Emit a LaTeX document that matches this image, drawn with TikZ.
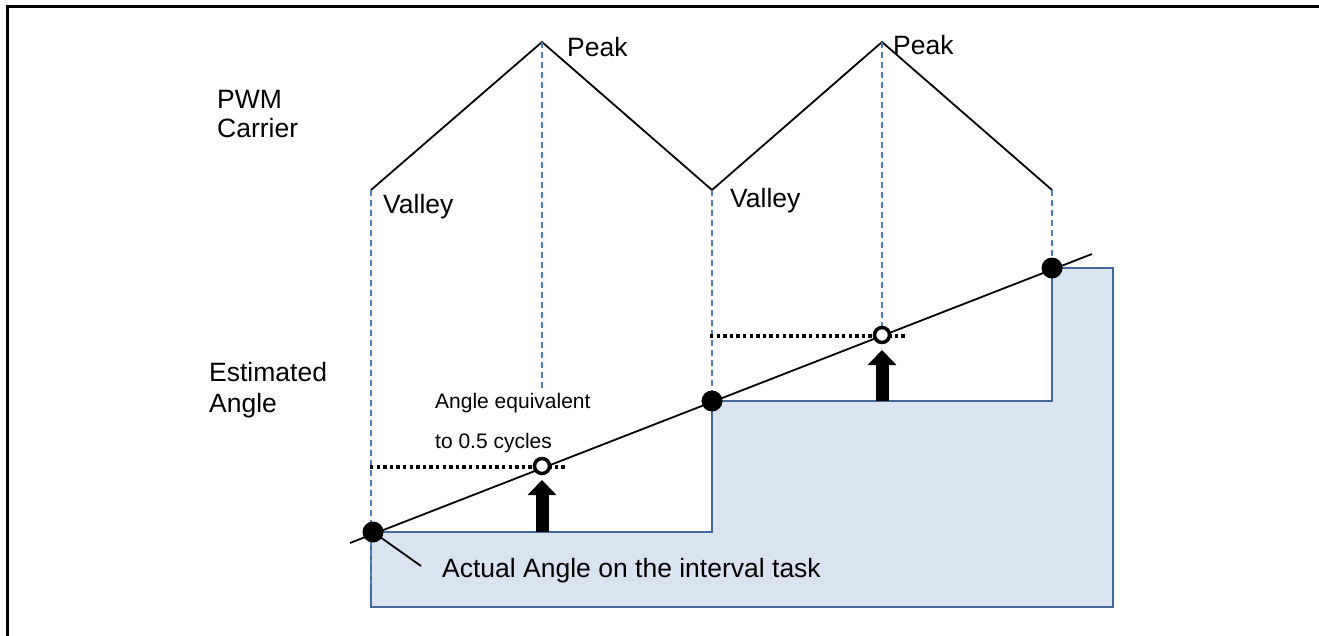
\documentclass[tikz,border=0pt]{standalone}
\usepackage{fontspec}
\setmainfont{Liberation Sans}
\usetikzlibrary{arrows.meta}
\usetikzlibrary{calc}
\definecolor{guideblue}{RGB}{74,126,196}
\definecolor{stairline}{RGB}{65,105,155}
\definecolor{stairfill}{RGB}{218,227,240}
\tikzset{
	lbl/.style={anchor=base west,inner sep=0pt,font=\fontsize{26.5bp}{30bp}\selectfont},
	smalllbl/.style={anchor=base west,inner sep=0pt,font=\fontsize{21bp}{25bp}\selectfont},
	guide/.style={draw=guideblue,line width=1.6bp,dash pattern=on 6bp off 4bp},
	hold/.style={line width=3.2bp,dash pattern=on 3.3bp off 3.3bp},
	sample/.style={circle,fill=black,inner sep=0pt,minimum size=21bp},
	midpt/.style={circle,draw=black,fill=white,line width=3.5bp,inner sep=0pt,minimum size=15bp},
	push/.style={-{Triangle[width=28bp,length=15bp]},line width=13bp}
}
\begin{document}
\begin{tikzpicture}[x=1bp,y=-1bp]
	\useasboundingbox (0,0) rectangle (1319,636);
	\draw[line width=3bp] (7,636) -- (7,7) -- (1319,7);

	\draw[stairline,fill=stairfill,line width=2bp]
		(371,607) -- (371,532) -- (712,532) -- (712,401) -- (1052,401)
		-- (1052,268) -- (1113,268) -- (1113,607) -- cycle;

	\coordinate (v1) at (371,190);
	\coordinate (p1) at (542,42);
	\coordinate (v2) at (712,190);
	\coordinate (p2) at (882,42);
	\coordinate (v3) at (1052,190);
	\draw[line width=1.8bp] (v1) -- (p1) -- (v2) -- (p2) -- (v3);

	\coordinate (rampA) at (350,543);
	\coordinate (rampB) at (1092,254);
	\coordinate (g1) at (371,585);
	\coordinate (g2) at (542,392);

	\draw[guide] (v1) -- (g1);
	\draw[guide] (p1) -- (g2);
	\draw[guide] (v2) -- (712,401);
	\draw[guide] (p2) -- (882,335);
	\draw[guide] (v3) -- (1052,268);

	\draw[line width=1.8bp] (rampA) -- (rampB);

	\draw[hold] (370,467) -- (566,467);
	\draw[hold] (710,336) -- (906,336);
	\node[midpt] (m1) at (542,466) {};
	\node[midpt] (m2) at (882,335) {};

	\draw[push] (542,532) -- (542,480);
	\draw[push] (882,401) -- (882,350);

	\node[sample] (s1) at (373,532) {};
	\node[sample] (s2) at (712,401) {};
	\node[sample] (s3) at (1052,268) {};

	\node[lbl] (pwm) at (217,109) {PWM};
	\node[lbl] (carrier) at (217,138) {Carrier};
	\node[lbl] (peak1) at (567,57) {Peak};
	\node[lbl] (peak2) at (893,55) {Peak};
	\node[lbl] (valley1) at (383,213) {Valley};
	\node[lbl] (valley2) at (730,207) {Valley};
	\node[lbl] (est) at (209,381) {Estimated};
	\node[lbl] (estangle) at (209,412) {Angle};
	\node[smalllbl] (equiv) at (435,408) {Angle equivalent};
	\node[smalllbl] (half) at (435,448) {to 0.5 cycles};
	\node[lbl] (actual) at (442,577) {Actual Angle on the interval task};
	\coordinate (lead) at (421,566);
	\draw[line width=1.8bp] (s1.center) -- (lead);
\end{tikzpicture}
\end{document}
